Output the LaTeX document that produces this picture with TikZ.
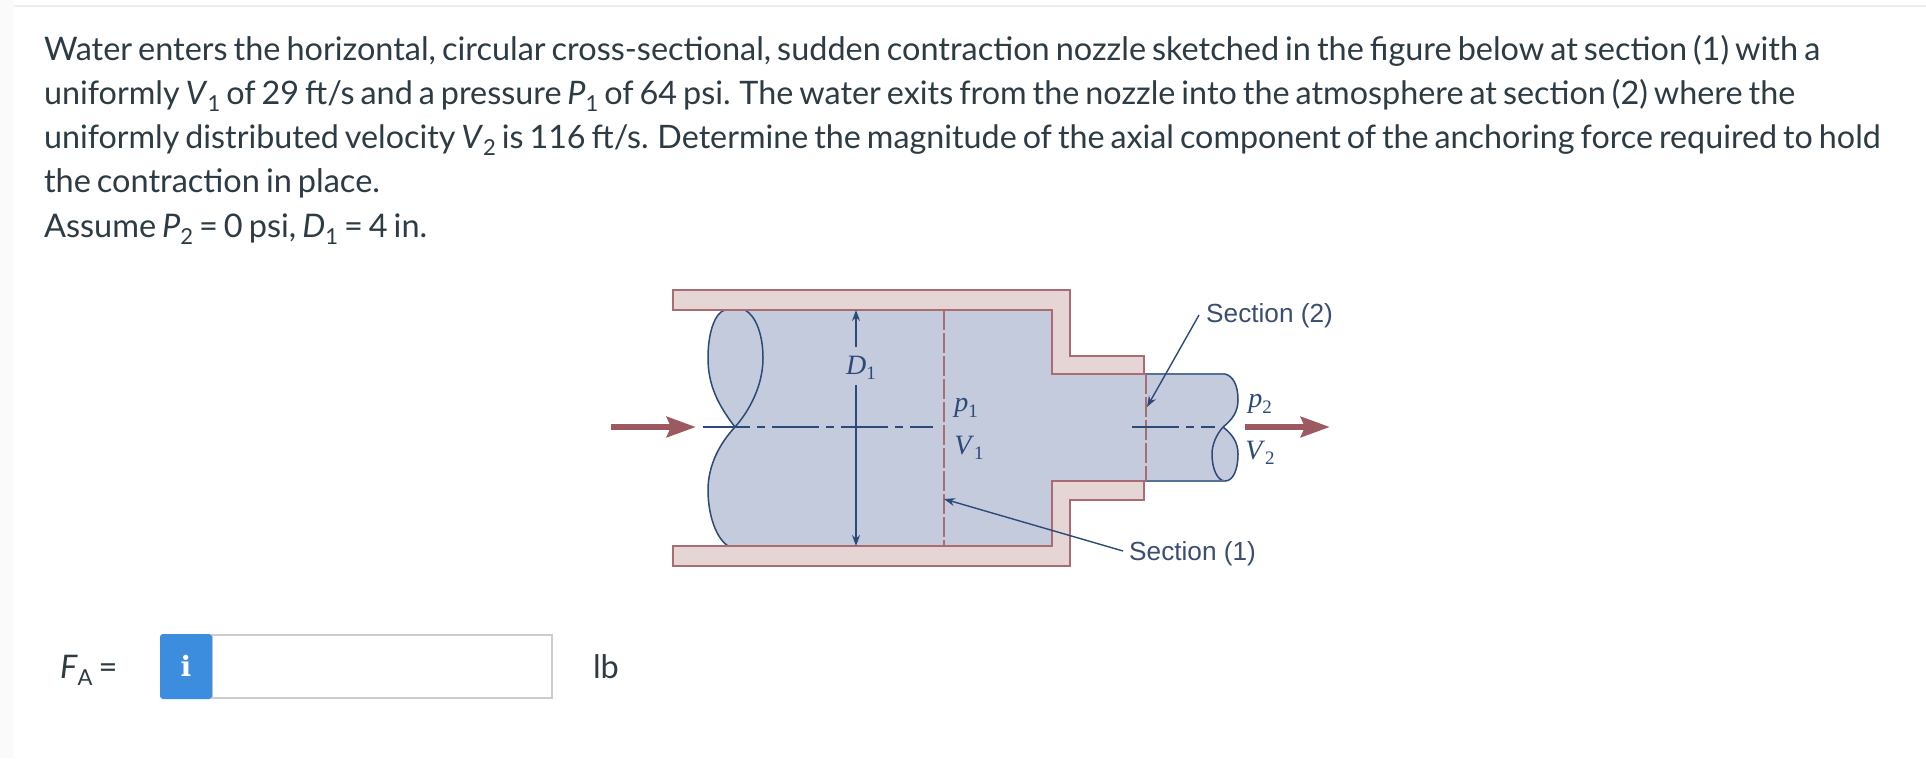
\documentclass[tikz,border=0pt]{standalone}
\usepackage{fontspec}
\usetikzlibrary{arrows.meta}
\setmainfont[WordSpace=0.72]{Lato}
\newfontfamily\labelfont{Liberation Sans}
\newfontfamily\iconfont{DejaVu Serif}
\newfontfamily\figfont{Liberation Serif}
\definecolor{wallfill}{HTML}{E6D5D5}
\definecolor{wallline}{HTML}{A96C72}
\definecolor{water}{HTML}{C4CBDD}
\definecolor{navy}{HTML}{2B4A78}
\definecolor{flow}{HTML}{9C5A60}
\definecolor{bodytext}{HTML}{2D3B45}
\definecolor{iconblue}{HTML}{3C8DDE}
\definecolor{sectext}{HTML}{3A4E70}
\newcommand{\subnum}[1]{\raisebox{-0.22em}{\fontsize{22}{22}\selectfont #1}}
\newcommand{\figsym}[2]{\textit{#1}\raisebox{-0.2em}{\fontsize{19}{19}\selectfont #2}}
\tikzset{
  x=1pt,y=-1pt,
  bodyline/.style={anchor=base west,inner sep=0pt,outer sep=0pt,text=bodytext,font=\fontsize{32.5}{36}\selectfont},
  wall/.style={draw=wallline,fill=wallfill,line width=1.7pt,line join=miter},
  sectionline/.style={draw=wallline,line width=1.5pt,dash pattern=on 20pt off 3pt},
  centerline/.style={draw=navy,line width=1.4pt,dash pattern=on 47pt off 7pt on 8pt off 7pt},
  flowarrow/.style={draw=flow,line width=6.5pt,-{Stealth[length=29pt,width=20pt,inset=4pt]}},
  leader/.style={draw=navy,line width=1.4pt,-{Stealth[length=11pt,width=8pt]}},
  mathlabel/.style={inner sep=0pt,text=navy,font=\figfont\fontsize{28}{28}\selectfont},
  seclabel/.style={inner sep=0pt,anchor=west,text=sectext,font=\labelfont\fontsize{26.2}{26.2}\selectfont},
  blob/.style={draw=navy,line width=1.5pt}
}
\begin{document}
\begin{tikzpicture}
\path[use as bounding box,fill=white] (0,0) rectangle (1926,758);
% page edge and top rule
\fill[black!2] (0,0) rectangle (14,758);
\fill[black!7] (14,5) rectangle (1926,7);
% text
\node[bodyline,font=\fontsize{32.45}{36}\selectfont] (l1) at (44,60) {Water enters the horizontal, circular cross-sectional, sudden contraction nozzle sketched in the figure below at section (1) with a};
\node[bodyline,font=\fontsize{32.36}{36}\selectfont] (l2) at (44,104.3) {uniformly \textit{V}\subnum{1} of 29 ft/s and a pressure \textit{P}\subnum{1} of 64 psi. The water exits from the nozzle into the atmosphere at section (2) where the};
\node[bodyline,font=\fontsize{32.28}{36}\selectfont] (l3) at (44,148.6) {uniformly distributed velocity \textit{V}\subnum{2} is 116 ft/s. Determine the magnitude of the axial component of the anchoring force required to hold};
\node[bodyline] (l4) at (44,192.9) {the contraction in place.};
\node[bodyline] (l5) at (44,237.2) {Assume \textit{P}\subnum{2} = 0 psi, \textit{D}\subnum{1} = 4 in.};
% water
\fill[water] (725,310) .. controls (716,312) and (708,330) .. (708,358) .. controls (708,385) and (718,405) .. (735,427) .. controls (720,443) and (708,465) .. (708,490) .. controls (708,515) and (716,538) .. (728,546) -- (1052,546) -- (1052,481) -- (1225,481) .. controls (1233,481) and (1238,470) .. (1238,454) .. controls (1238,442) and (1232,434) .. (1223,427) .. controls (1232,420) and (1238,412) .. (1238,400) .. controls (1238,385) and (1233,376) .. (1225,374) -- (1052,374) -- (1052,310) -- cycle;
\draw[blob] (735,427) .. controls (718,405) and (708,385) .. (708,358) .. controls (708,330) and (716,312) .. (725,310);
\draw[blob] (745,310) .. controls (756,316) and (763,335) .. (763,358) .. controls (763,385) and (750,410) .. (735,427);
\draw[blob] (735,427) .. controls (720,443) and (708,465) .. (708,490) .. controls (708,515) and (716,538) .. (728,546);
\draw[blob] (1225,374) .. controls (1233,376) and (1238,385) .. (1238,400) .. controls (1238,412) and (1232,420) .. (1223,427);
\draw[blob] (1223,427) .. controls (1216,435) and (1212,445) .. (1212,454) .. controls (1212,470) and (1218,481) .. (1225,481) .. controls (1233,481) and (1238,470) .. (1238,454) .. controls (1238,442) and (1232,434) .. (1223,427);
\draw[navy!70!water,line width=1.3pt] (1144,374) -- (1225,374) (1144,481) -- (1225,481);
% walls
\draw[wall] (673,290) -- (1070,290) -- (1070,356) -- (1144,356) -- (1144,374) -- (1052,374) -- (1052,310) -- (673,310) -- cycle;
\draw[wall] (673,546) -- (1052,546) -- (1052,481) -- (1144,481) -- (1144,500) -- (1070,500) -- (1070,566) -- (673,566) -- cycle;
% section lines
\coordinate (s1top) at (944,310);
\coordinate (s1bot) at (944,546);
\coordinate (s2top) at (1146,374);
\coordinate (s2bot) at (1146,481);
\draw[sectionline] (s1top) -- (s1bot);
\draw[sectionline] (s2top) -- (s2bot);
% centre lines
\coordinate (c1a) at (703,427);
\coordinate (c1b) at (933,427);
\coordinate (c2a) at (1132,427);
\coordinate (c2b) at (1215,427);
\draw[centerline] (c1a) -- (c1b);
\draw[centerline] (c2a) -- (c2b);
% flow arrows
\coordinate (ina) at (611,427);
\coordinate (inb) at (696,427);
\coordinate (outa) at (1245,427);
\coordinate (outb) at (1330,427);
\draw[flowarrow] (ina) -- (inb);
\draw[flowarrow] (outa) -- (outb);
% D1
\node[mathlabel] (d1) at (861,368) {\figsym{D}{1}};
\coordinate (d1top) at (856,310);
\coordinate (d1bot) at (856,546);
\coordinate (d1u) at (856,347);
\coordinate (d1l) at (856,385);
\draw[leader] (d1u) -- (d1top);
\draw[leader] (d1l) -- (d1bot);
% labels
\node[mathlabel] (p1) at (966,408) {\figsym{p}{1}};
\node[mathlabel] (v1) at (969,448) {\figsym{V}{1}};
\node[mathlabel] (p2) at (1260,404) {\figsym{p}{2}};
\node[mathlabel] (v2) at (1260,453) {\figsym{V}{2}};
\node[seclabel] (sec2) at (1206,316) {Section (2)};
\node[seclabel] (sec1) at (1129,554) {Section (1)};
\coordinate (t1) at (944,499);
\coordinate (t2) at (1147,407);
\coordinate (f2) at (1199,315);
\coordinate (f1) at (1123,551);
\draw[leader] (f1) -- (t1);
\draw[leader] (f2) -- (t2);
% answer row
\node[bodyline,anchor=base west] (fa) at (60,678) {\textit{F}\subnum{A} =};
\draw[draw=black!20,fill=white,line width=2pt] (212,635) rectangle (552,698);
\fill[iconblue,rounded corners=3pt] (160,634) rectangle (212,699);
\node[inner sep=0pt,text=white,font=\iconfont\bfseries\fontsize{28}{28}\selectfont] (icon) at (186,666) {i};
\node[bodyline,anchor=base west] (lb) at (593,678) {lb};
\end{tikzpicture}
\end{document}
